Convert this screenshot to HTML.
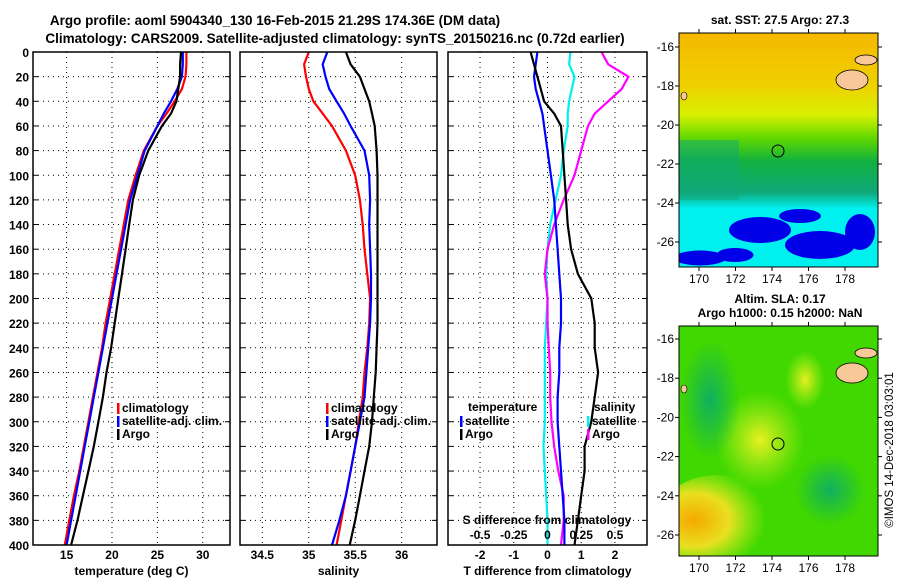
<!DOCTYPE html>
<html><head><meta charset="utf-8">
<style>
html,body{margin:0;padding:0;background:#fff;}
svg{display:block;font-family:"Liberation Sans",sans-serif;font-weight:bold;}
</style></head>
<body>
<svg id="s" width="900" height="580" viewBox="0 0 900 580" xmlns="http://www.w3.org/2000/svg">
<text x="275" y="25" font-size="13.5" text-anchor="middle">Argo profile: aoml 5904340_130 16-Feb-2015 21.29S 174.36E (DM data)</text>
<text x="335" y="43" font-size="13.5" text-anchor="middle">Climatology: CARS2009. Satellite-adjusted climatology: synTS_20150216.nc (0.72d earlier)</text>
<defs>
<linearGradient id="sstg" x1="0" y1="0" x2="0" y2="1">
<stop offset="0" stop-color="#f5b800"/><stop offset="0.22" stop-color="#f0d000"/><stop offset="0.35" stop-color="#d8f000"/><stop offset="0.45" stop-color="#60d800"/><stop offset="0.55" stop-color="#10b040"/><stop offset="0.68" stop-color="#10a878"/><stop offset="0.75" stop-color="#00f0f0"/><stop offset="1" stop-color="#00f0f0"/>
</linearGradient>
<radialGradient id="hot" cx="0.3" cy="0.5" r="0.6"><stop offset="0" stop-color="#f5a800"/><stop offset="0.5" stop-color="#e8e020"/><stop offset="1" stop-color="#c0f020" stop-opacity="0"/></radialGradient>
<radialGradient id="yel" cx="0.5" cy="0.5" r="0.5"><stop offset="0" stop-color="#e8f020"/><stop offset="1" stop-color="#c0f020" stop-opacity="0"/></radialGradient>
<radialGradient id="dk" cx="0.5" cy="0.5" r="0.5"><stop offset="0" stop-color="#10b060"/><stop offset="1" stop-color="#10b060" stop-opacity="0"/></radialGradient>
<clipPath id="clip-sst"><rect x="679" y="33" width="199" height="234"/></clipPath>
<clipPath id="clip-sla"><rect x="679" y="326" width="199" height="230"/></clipPath>
</defs>
<g id="p1"></g><g id="p2"></g><g id="p3"></g>
<g id="maps"></g>
<text transform="translate(893,450) rotate(-90)" font-size="11.5" font-weight="normal" text-anchor="middle">©IMOS 14-Dec-2018 03:03:01</text>
</svg>
<script>
const depths=[0,10,20,30,40,50,60,80,100,120,140,160,180,200,220,240,260,280,300,320,340,360,380,400];
const tempClim=[28.2,28.2,28.1,27.7,26.9,26.0,25.0,23.5,22.6,21.8,21.3,20.8,20.3,19.8,19.3,18.9,18.4,17.9,17.4,16.9,16.4,15.8,15.3,14.8];
const tempSat=[27.8,27.8,27.7,27.2,26.5,25.7,25.0,23.6,22.8,22.0,21.5,21.0,20.5,20.0,19.5,19.0,18.5,18.0,17.5,17.0,16.5,16.0,15.5,15.0];
const tempArgo=[27.6,27.5,27.5,27.3,27.1,26.5,25.5,24.0,23.0,22.3,21.9,21.5,21.1,20.7,20.3,19.9,19.4,19.0,18.5,18.0,17.4,16.8,16.2,15.5];
const salClim=[35.0,34.95,34.97,35.0,35.05,35.15,35.25,35.4,35.5,35.55,35.58,35.6,35.63,35.66,35.65,35.63,35.6,35.58,35.54,35.5,35.45,35.4,35.35,35.3];
const salSat=[35.2,35.15,35.18,35.22,35.3,35.38,35.45,35.6,35.65,35.66,35.65,35.66,35.67,35.67,35.66,35.64,35.62,35.6,35.55,35.5,35.45,35.4,35.33,35.25];
const salArgo=[35.4,35.45,35.55,35.6,35.65,35.68,35.71,35.73,35.74,35.74,35.74,35.74,35.74,35.74,35.74,35.73,35.72,35.7,35.68,35.65,35.6,35.55,35.5,35.44];
const dTsat=[-0.3,-0.35,-0.4,-0.35,-0.25,-0.15,-0.1,0.0,0.1,0.2,0.25,0.3,0.35,0.4,0.4,0.35,0.35,0.3,0.3,0.35,0.4,0.45,0.5,0.5];
const dTargo=[-0.5,-0.4,-0.3,-0.2,-0.1,0.2,0.4,0.45,0.5,0.55,0.6,0.7,0.9,1.3,1.4,1.4,1.5,1.4,1.3,1.1,1.1,1.0,0.9,0.8];
const dSsat=[0.17,0.16,0.2,0.18,0.16,0.15,0.15,0.12,0.1,0.06,0.02,0.0,-0.01,0.0,-0.01,-0.02,-0.02,-0.02,-0.02,-0.03,-0.02,-0.01,0.0,0.0];
const dSargo=[0.4,0.45,0.6,0.55,0.45,0.35,0.3,0.25,0.2,0.12,0.05,0.0,-0.02,0.0,0.0,0.01,0.02,0.02,0.03,0.05,0.08,0.12,0.12,0.1];
const tTicks=[15,20,25,30], sTicks=[34.5,35,35.5,36], dTticks=[-2,-1,0,1,2], dSticks=[-0.5,-0.25,0,0.25,0.5], dSlabels=['-0.5','-0.25','0','0.25','0.5'];
const depthTicks=[0,20,40,60,80,100,120,140,160,180,200,220,240,260,280,300,320,340,360,380,400];
const NS='http://www.w3.org/2000/svg';
function mk(p,t,a,txt){const e=document.createElementNS(NS,t);for(const k in a)e.setAttribute(k,a[k]);if(txt!==undefined)e.textContent=txt;p.appendChild(e);return e;}
const Y0=52,Y1=545;
const yS=d=>Y0+d/400*(Y1-Y0);
function panel(g,x0,x1,xmin,xmax,ticks,labels,xlabel,series,leftLabels,name){
 const xS=v=>x0+(v-xmin)/(xmax-xmin)*(x1-x0);
 ticks.forEach((t,i)=>{const x=xS(t);
  const l=mk(g,'line',{x1:x,x2:x,y1:Y0,y2:Y1,stroke:'#000','stroke-dasharray':'1,4','stroke-width':1});
  
  const tl=mk(g,'text',{x:x,y:Y1+14,'font-size':12,'text-anchor':'middle'},labels[i]);
  });
 depthTicks.forEach(d=>{const y=yS(d);
  if(d>0&&d<400){const l=mk(g,'line',{x1:x0,x2:x1,y1:y,y2:y,stroke:'#000','stroke-dasharray':'1,4'});
  }
  mk(g,'line',{x1:x0,x2:x0+5,y1:y,y2:y,stroke:'#000'});mk(g,'line',{x1:x1,x2:x1-5,y1:y,y2:y,stroke:'#000'});
  if(leftLabels){const t=mk(g,'text',{x:x0-4,y:y+5,'font-size':12,'text-anchor':'end'},String(d));
  }});
 series.forEach(s=>{const pts=depths.map((d,i)=>xS(s.f(s.v[i])).toFixed(1)+','+yS(d).toFixed(1)).join(' ');
  const pl=mk(g,'polyline',{points:pts,fill:'none',stroke:s.c,'stroke-width':2.2});
  });
 const r=mk(g,'rect',{x:x0,y:Y0,width:x1-x0,height:Y1-Y0,fill:'none',stroke:'#000','stroke-width':1.5});
 
 const xl=mk(g,'text',{x:(x0+x1)/2,y:575,'font-size':12,'text-anchor':'middle'},xlabel);
 
 return xS;}
const id=v=>v;
panel(document.getElementById('p1'),33,230,11.3,33,tTicks,tTicks.map(String),'temperature (deg C)',
 [{v:tempClim,c:'#f00',n:'temp-climatology-line',f:id},{v:tempSat,c:'#00f',n:'temp-satellite-line',f:id},{v:tempArgo,c:'#000',n:'temp-argo-line',f:id}],true,'temperature-panel');
panel(document.getElementById('p2'),240,437,34.26,36.38,sTicks,sTicks.map(String),'salinity',
 [{v:salClim,c:'#f00',n:'sal-climatology-line',f:id},{v:salSat,c:'#00f',n:'sal-satellite-line',f:id},{v:salArgo,c:'#000',n:'sal-argo-line',f:id}],false,'salinity-panel');
const g3=document.getElementById('p3');
const xS3=panel(g3,448,647,-2.95,2.95,dTticks,dTticks.map(String),'T difference from climatology',
 [{v:dSsat,c:'#0ee',n:'sdiff-satellite-line',f:v=>v*4},{v:dSargo,c:'#f0f',n:'sdiff-argo-line',f:v=>v*4},{v:dTsat,c:'#00f',n:'tdiff-satellite-line',f:id},{v:dTargo,c:'#000',n:'tdiff-argo-line',f:id}],false,'difference-panel');
const sdl=mk(g3,'text',{x:547,y:524,'font-size':12,'text-anchor':'middle'},'S difference from climatology');

dSticks.forEach((t,i)=>{const e=mk(g3,'text',{x:xS3(t*4),y:539,'font-size':12,'text-anchor':'middle'},dSlabels[i]);
 });
function legend(g,x,y,items,name){items.forEach((it,i)=>{const yy=y+i*13;
 const r=mk(g,'rect',{x:x,y:yy-9,width:2.5,height:11,fill:it[1]});
 const t=mk(g,'text',{x:x+5,y:yy,'font-size':12},it[0]);
 });}
legend(document.getElementById('p1'),117,412,[['climatology','#f00'],['satellite-adj. clim.','#00f'],['Argo','#000']],'temp-legend');
legend(document.getElementById('p2'),326,412,[['climatology','#f00'],['satellite-adj. clim.','#00f'],['Argo','#000']],'sal-legend');
let tt=mk(g3,'text',{x:468,y:411,'font-size':12},'temperature');
legend(g3,460,425,[['satellite','#00f'],['Argo','#000']],'tdiff-legend');
tt=mk(g3,'text',{x:594,y:411,'font-size':12},'salinity');
legend(g3,587,425,[['satellite','#0ee'],['Argo','#f0f']],'sdiff-legend');
// maps
const M=document.getElementById('maps');
function map(y0,y1,yt,title,kind){
 const x0=679,x1=878;
 const C=mk(M,'g',{'clip-path':'url(#clip-'+kind+')'});
 
 if(kind==='sst'){
  mk(C,'rect',{x:x0,y:y0,width:x1-x0,height:y1-y0,fill:'url(#sstg)'});
  mk(C,'rect',{x:x0,y:140,width:60,height:60,fill:'#10a878',opacity:0.5});
  [[760,230,50,20],[820,245,58,22],[700,258,40,9],[800,216,30,8],[860,232,18,30],[735,255,25,8]].forEach(b=>mk(C,'ellipse',{cx:b[0],cy:b[1],rx:b[2]/2+6,ry:b[3]/2+3,fill:'#0000e8'}));
 } else {
  mk(C,'rect',{x:x0,y:y0,width:x1-x0,height:y1-y0,fill:'#40d800'});
  mk(C,'ellipse',{cx:760,cy:440,rx:45,ry:50,fill:'url(#yel)'});
  mk(C,'ellipse',{cx:805,cy:380,rx:20,ry:30,fill:'url(#yel)'});
  mk(C,'ellipse',{cx:718,cy:520,rx:60,ry:45,fill:'url(#hot)'});
  mk(C,'ellipse',{cx:710,cy:400,rx:30,ry:60,fill:'url(#dk)'});
  mk(C,'ellipse',{cx:830,cy:490,rx:35,ry:35,fill:'url(#dk)'});
 }
 mk(C,'ellipse',{cx:852,cy:y0+47,rx:16,ry:10,fill:'#f8c898',stroke:'#000','stroke-width':0.8});
 mk(C,'ellipse',{cx:866,cy:y0+27,rx:11,ry:5,fill:'#f8c898',stroke:'#000','stroke-width':0.8});
 mk(C,'ellipse',{cx:684,cy:y0+63,rx:3,ry:4,fill:'#f8c898',stroke:'#000','stroke-width':0.6});
 const ac=mk(C,'circle',{cx:778,cy:y0+118,r:6,fill:'none',stroke:'#000','stroke-width':1});
 
 const fr=mk(M,'rect',{x:x0,y:y0,width:x1-x0,height:y1-y0,fill:'none',stroke:'#000','stroke-width':1});
 
 const lats=[-16,-18,-20,-22,-24,-26], lons=[170,172,174,176,178];
 lats.forEach((l,i)=>{const y=yt[0]+i*(yt[1]-yt[0])/5;
  mk(M,'line',{x1:x0,x2:x0-4,y1:y,y2:y,stroke:'#000'});mk(M,'line',{x1:x1,x2:x1+4,y1:y,y2:y,stroke:'#000'});
  const t=mk(M,'text',{x:x0-5,y:y+4,'font-size':12,'text-anchor':'end','font-weight':'normal'},String(l));
  });
 lons.forEach((l,i)=>{const x=699+i*36.5;
  mk(M,'line',{x1:x,x2:x,y1:y0,y2:y0-4,stroke:'#000'});mk(M,'line',{x1:x,x2:x,y1:y1,y2:y1+4,stroke:'#000'});
  const t=mk(M,'text',{x:x,y:y1+16,'font-size':12,'text-anchor':'middle','font-weight':'normal'},String(l));
  });
 title.forEach((s,i)=>{const t=mk(M,'text',{x:780,y:y0-(title.length-1-i)*14-9,'font-size':12,'text-anchor':'middle'},s);
  });
}
map(33,267,[47,242],['sat. SST: 27.5 Argo: 27.3'],'sst');
map(326,556,[339,535],['Altim. SLA: 0.17','Argo h1000: 0.15 h2000: NaN'],'sla');
</script>
</body></html>
